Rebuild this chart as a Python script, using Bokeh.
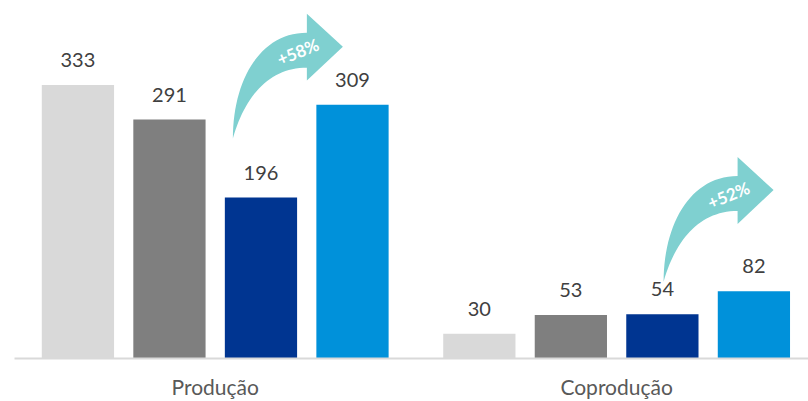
import numpy as np
from bokeh.plotting import figure
from bokeh.models import Range1d, FixedTicker, Label
from bokeh.embed import file_html
from bokeh.resources import INLINE
from bokeh.core.properties import value

# ---- data ----
categories = ["Produção", "Coprodução"]
series_1 = [333, 30]
series_2 = [291, 53]
series_3 = [196, 54]
series_4 = [309, 82]
growth_labels = ["+58%", "+52%"]

colors = ["#d9d9d9", "#7f7f7f", "#003591", "#0091da"]
arrow_color = "#7fd0d0"

W, H = 808, 401
BL, BR, BT, BB = 14, 0, 0, 42
X0, X1 = -0.5, 1.478
Y0, Y1 = 0, 436.0

p = figure(width=W, height=H, output_backend="svg", toolbar_location=None,
           x_range=Range1d(X0, X1), y_range=Range1d(Y0, Y1),
           min_border_left=BL, min_border_right=BR, min_border_top=BT, min_border_bottom=BB)
p.outline_line_color = None
p.grid.visible = False
p.yaxis.visible = False
p.background_fill_color = "white"

xa = p.xaxis[0]
xa.ticker = FixedTicker(ticks=list(range(len(categories))))
xa.major_label_overrides = {i: c for i, c in enumerate(categories)}
xa.major_tick_line_color = None
xa.major_tick_out = 0
xa.major_tick_in = 0
xa.minor_tick_line_color = None
xa.minor_tick_out = 0
xa.axis_line_color = "#d9d9d9"
xa.axis_line_width = 2
xa.major_label_text_font = "Lato"
xa.major_label_text_font_size = "21px"
xa.major_label_text_color = "#595959"
xa.major_label_standoff = 15

all_series = [series_1, series_2, series_3, series_4]
pitch, bw = 0.228, 0.18
for i, s in enumerate(all_series):
    off = (i - 1.5) * pitch
    xs = [k + off for k in range(len(categories))]
    p.vbar(x=xs, top=s, width=bw, bottom=0, fill_color=colors[i], line_color=None)
    p.text(x=xs, y=s, text=[str(v) for v in s], text_align="center",
           text_baseline="alphabetic", y_offset=-25,
           text_font=value("Lato"), text_font_size="20px", text_color="#404040")

# ---- curved arrows (annotation) ----
fw = W - BL - BR
fh = H - BT - BB
sx = (X1 - X0) / fw
sy = (Y1 - Y0) / fh


def bez(P0, P1, P2, P3, n=30):
    t = np.linspace(0, 1, n)[:, None]
    P = [np.array(q, float) for q in (P0, P1, P2, P3)]
    return ((1 - t) ** 3) * P[0] + 3 * ((1 - t) ** 2) * t * P[1] + 3 * (1 - t) * t ** 2 * P[2] + t ** 3 * P[3]


outer = bez((0, 0), (0, 58), (27, 106), (74, 106))
head = np.array([(74, 125), (110, 92), (74, 58), (74, 71)], float)
inner = bez((74, 71), (37, 71), (12, 43), (0, 0))
shape = np.vstack([outer, head, inner])

arrow_tails = [(0.044, 268.0), (1.117, 93.5)]
for (tx, ty), lab in zip(arrow_tails, growth_labels):
    p.patch(x=tx + shape[:, 0] * sx, y=ty + shape[:, 1] * sy,
            fill_color=arrow_color, line_color=None)
    p.add_layout(Label(x=tx + 65 * sx, y=ty + 87 * sy, text=lab, angle=22, angle_units="deg",
                       text_align="center", text_baseline="middle", text_font="Lato",
                       text_font_style="bold", text_font_size="17px", text_color="white"))

open("out.html", "w").write(file_html(p, INLINE))
